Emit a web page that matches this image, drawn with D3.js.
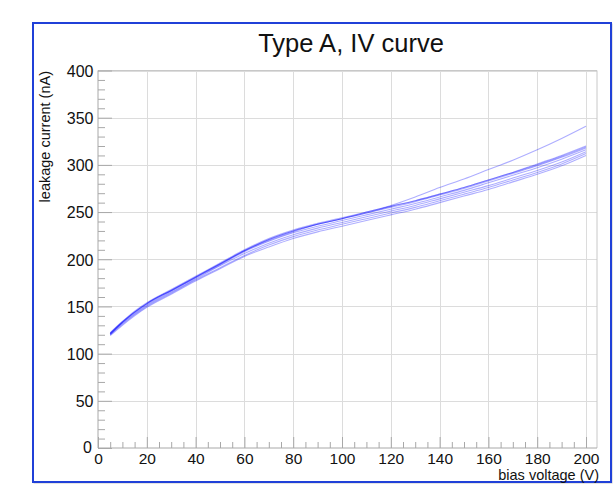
<!DOCTYPE html>
<html>
<head>
<meta charset="utf-8">
<script src="https://cdn.jsdelivr.net/npm/d3@7/dist/d3.min.js"></script>
<style>
  html, body { margin: 0; padding: 0; background: #fff; }
  svg { display: block; font-family: "Liberation Sans", Arial, Helvetica, sans-serif; }
</style>
</head>
<body>
<svg id="chart" width="616" height="485"></svg>
<script>
// ---- data ----
const title = "Type A, IV curve";
const xLabel = "bias voltage (V)";
const yLabel = "leakage current (nA)";
const voltages = [5, 10, 15, 20, 30, 40, 50, 60, 70, 80, 90, 100, 110, 120, 130, 140, 150, 160, 170, 180, 190, 200];
const curve1 = [122, 134, 145, 154, 168, 182, 196, 210, 222, 231, 238, 244, 250, 256, 262, 269, 276, 284, 292, 301, 310, 320];
const curve2 = [121, 133, 144, 153, 167, 181, 195, 209, 221, 230, 237, 243, 249, 255, 261, 268, 275, 283, 291, 299, 308, 318];
const curve3 = [121, 133, 143, 152, 166, 180, 194, 208, 219, 228, 235, 241, 247, 253, 259, 266, 273, 281, 289, 297, 306, 316];
const curve4 = [120, 132, 142, 151, 165, 179, 193, 206, 217, 226, 233, 239, 245, 251, 257, 264, 271, 278, 286, 294, 303, 314];
const curve5 = [120, 131, 141, 150, 164, 178, 191, 204, 215, 224, 231, 237, 243, 249, 255, 262, 269, 276, 284, 292, 301, 312];
const curve6 = [119, 130, 140, 149, 163, 177, 190, 203, 213, 222, 229, 235, 241, 247, 253, 260, 267, 274, 282, 290, 299, 310];
const curve7 = [121, 133, 144, 153, 167, 181, 195, 209, 220, 229, 237, 243, 249, 256, 262, 269, 276, 284, 292, 300, 309, 319];
const curve8 = [122, 134, 144, 153, 167, 181, 195, 209, 221, 230, 237, 243, 250, 257, 266, 276, 285, 295, 305, 316, 328, 341];
const curves = [curve1, curve2, curve3, curve4, curve5, curve6, curve7, curve8];
const xMajorTicks = [0, 20, 40, 60, 80, 100, 120, 140, 160, 180, 200];
const yMajorTicks = [0, 50, 100, 150, 200, 250, 300, 350, 400];

// ---- layout ----
const svg = d3.select("#chart");
const pLeft = 98, pRight = 597, pTop = 70.5, pBottom = 448;
const x = d3.scaleLinear().domain([0, 204.5]).range([pLeft, pRight]);
const y = d3.scaleLinear().domain([0, 400]).range([pBottom, pTop]);

// outer frame
svg.append("rect").attr("x", 34).attr("y", 24).attr("width", 578).attr("height", 459)
  .attr("fill", "none").attr("stroke", "#c8c8c8").attr("stroke-width", 1);
svg.append("rect").attr("x", 33).attr("y", 23).attr("width", 578).attr("height", 459)
  .attr("fill", "#fff").attr("stroke", "#2040d8").attr("stroke-width", 2);

// grid
const grid = svg.append("g").attr("stroke", "#dcdcdc").attr("stroke-width", 1);
xMajorTicks.filter(d => d > 0).forEach(d => {
  grid.append("line").attr("x1", Math.round(x(d)) + 0.5).attr("x2", Math.round(x(d)) + 0.5)
    .attr("y1", pTop).attr("y2", pBottom);
});
yMajorTicks.filter(d => d > 0).forEach(d => {
  grid.append("line").attr("x1", pLeft).attr("x2", pRight)
    .attr("y1", Math.round(y(d)) + 0.5).attr("y2", Math.round(y(d)) + 0.5);
});

// plot frame (top and right)
svg.append("line").attr("x1", pLeft).attr("x2", pRight).attr("y1", pTop).attr("y2", pTop)
  .attr("stroke", "#c8c8c8");
svg.append("line").attr("x1", pRight).attr("x2", pRight).attr("y1", pTop).attr("y2", pBottom)
  .attr("stroke", "#c8c8c8");

// axes
const axisColor = "#a8a8a8";
const xMinor = d3.range(0, 205, 5).filter(d => d % 20 !== 0);
const yMinor = d3.range(0, 401, 10).filter(d => d % 50 !== 0);

const gx = svg.append("g").attr("transform", `translate(0,${pBottom})`)
  .call(d3.axisBottom(x).tickValues(xMajorTicks).tickSize(-11).tickPadding(4.5).tickFormat(d3.format("d")));
gx.append("g").call(d3.axisBottom(x).tickValues(xMinor).tickSize(-6).tickFormat(""))
  .select(".domain").remove();
gx.selectAll("path.domain").attr("stroke", axisColor).attr("d", `M${pLeft},0H${pRight}`);
gx.selectAll("line").attr("stroke", axisColor);
gx.selectAll("text").attr("fill", "#111").attr("font-size", 15.5)
  .attr("font-family", "Liberation Sans, Arial, sans-serif");

const gy = svg.append("g").attr("transform", `translate(${pLeft},0)`)
  .call(d3.axisLeft(y).tickValues(yMajorTicks).tickSize(-14).tickPadding(4.5).tickFormat(d3.format("d")));
gy.append("g").call(d3.axisLeft(y).tickValues(yMinor).tickSize(-7).tickFormat(""))
  .select(".domain").remove();
gy.selectAll("path.domain").attr("stroke", axisColor).attr("d", `M0,${pTop}V${pBottom}`);
gy.selectAll("line").attr("stroke", axisColor);
gy.selectAll("text").attr("fill", "#111").attr("font-size", 16)
  .attr("font-family", "Liberation Sans, Arial, sans-serif").attr("dy", "0.36em");
gy.selectAll(".tick text").filter(d => d === 0).attr("dy", "0.3em").attr("x", -6);

// curves
const line = d3.line().x((d, i) => x(voltages[i])).y(d => y(d)).curve(d3.curveMonotoneX);
svg.append("g").selectAll("path").data(curves).join("path")
  .attr("d", d => line(d))
  .attr("fill", "none")
  .attr("stroke", "#0000ff")
  .attr("stroke-opacity", 0.32)
  .attr("stroke-width", 1.1);

// title
svg.append("text").attr("x", 351).attr("y", 51.5).attr("text-anchor", "middle")
  .attr("font-size", 25.5).attr("fill", "#111").text(title);

// axis titles
svg.append("text").attr("x", 599).attr("y", 480).attr("text-anchor", "end")
  .attr("font-size", 14.5).attr("fill", "#111").text(xLabel);
svg.append("text").attr("transform", "translate(50,71) rotate(-90)").attr("text-anchor", "end")
  .attr("font-size", 14.5).attr("fill", "#111").text(yLabel);
</script>
</body>
</html>
